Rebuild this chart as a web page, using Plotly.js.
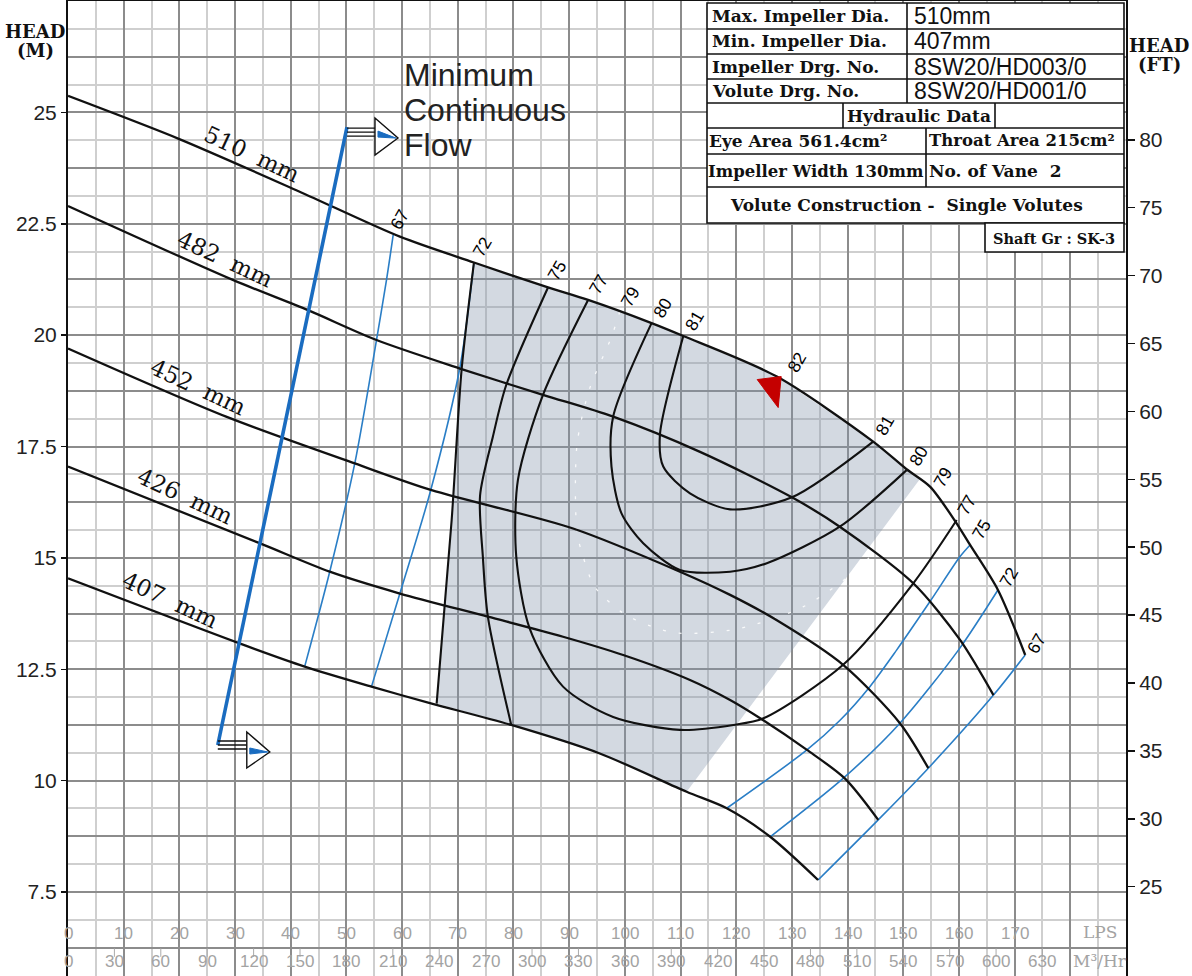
<!DOCTYPE html>
<html><head><meta charset="utf-8">
<script src="https://cdn.plot.ly/plotly-3.0.1.min.js"></script>
<style>html,body{margin:0;padding:0;background:#fff}#chart{width:1192px;height:976px}</style>
</head><body><div id="chart"></div>
<script>
// ---------- DATA (flow in LPS, head in m) ----------
const h510Q=[0,20,41.6,59.6,72.9,86.2,93.4,104.8,110.5,127.3,144.6,150.6,154.8,159.4,162.0,167.0,171.9];
const h510H=[25.37,24.4,23.22,22.21,21.63,21.07,20.79,20.27,19.98,19.07,17.61,16.99,16.6,15.81,15.29,14.28,12.82];
const h482Q=[0,29.6,43.1,55.4,70.4,85.3,97.9,113.5,130,138.6,151.8,160.2,166.2];
const h482H=[22.9,21.24,20.56,19.89,19.25,18.66,18.17,17.38,16.36,15.7,14.43,13.16,11.92];
const h452Q=[0,28.4,51.5,65.3,90.7,109.9,118.9,127.3,139.2,149.4,154.5];
const h452H=[19.7,18.17,17.12,16.52,15.66,14.69,14.17,13.6,12.6,11.29,10.28];
const h426Q=[0,34.4,47,59.6,75.4,88.9,99.7,111.7,118.9,124.3,132.7,139.5,145.5];
const h426H=[17.05,15.33,14.69,14.2,13.68,13.23,12.82,12.26,11.81,11.4,10.69,10.05,9.12];
const h407Q=[0,30.8,42.5,54.5,65,79.6,95.5,111.1,118.3,126.1,134.7];
const h407H=[14.54,13.08,12.56,12.11,11.74,11.25,10.61,9.75,9.38,8.74,7.77];
const diaNames=['510 mm','482 mm','452 mm','426 mm','407 mm'];

// efficiency contours (%)
const eff67LQ=[58.4,57.2,55.4,51.5,47,42.5];
const eff67LH=[22.25,21.24,19.89,17.12,14.69,12.56];
const eff72LQ=[72.9,70.4,65.1,59.6,54.5];
const eff72LH=[21.63,19.29,16.5,14.2,12.11];
const zone72Q=[72.9,70.7,68.9,66.2];
const zone72H=[21.63,19.25,15.85,11.73];
const eff75LQ=[86.2,78.7,76.3,74.0,74.5,75.4,79.6];
const eff75LH=[21.07,18.88,17.72,16.4,15.03,13.68,11.25];
const eff77Q=[93.4,85.3,80.8,80.5,82.9,88.9,97.9,109.9,119.5,124.9,139.2,151.8,159.6];
const eff77H=[20.79,18.66,16.75,15.03,13.42,12.11,11.43,11.14,11.25,11.4,12.6,14.43,15.85];
const eff79Q=[99.1,97.6,93.6,91.4,91.4,92.5,94.6,99.7,104.8,109.6,120,132,142.2,154.8];
const eff79H=[20.53,19.96,18.77,17.53,15.59,15.03,14.35,13.76,13.46,13.31,13.4,13.9,14.8,16.59];
const eff80Q=[104.8,97.9,97.6,99.4,103.3,109.9,118.9,125.5,138.6,150.6];
const eff80H=[20.27,18.17,17.05,16.0,15.33,14.73,14.69,14.88,15.7,16.97];
const eff81Q=[110.5,106.3,106.9,111.7,118.9,130,144.6];
const eff81H=[19.98,17.76,17.05,16.45,16.09,16.36,17.61];
const eff75RQ=[162.0,160.2,154.8,148.8,144.0,138.6,132.7,118.3];
const eff75RH=[15.29,15.03,14.02,12.93,12.11,11.35,10.69,9.38];
const eff72RQ=[167.0,159.9,149.4,139.2,126.1];
const eff72RH=[14.28,12.93,11.29,10.05,8.74];
const eff67RQ=[171.9,166.2,154.5,145.5,134.7];
const eff67RH=[12.82,11.92,10.28,9.12,7.77];
const bepQ=127.9, bepH=19.07, bepLabel='82';

// preferred operating zone (shaded)
const zoneQ=[72.9,86.2,93.4,104.8,110.5,127.3,144.6,150.6,153.0,111.1,95.5,79.6,66.2,68.9,70.7,72.9];
const zoneH=[21.63,21.07,20.79,20.27,19.98,19.07,17.61,16.99,16.77,9.75,10.61,11.25,11.73,15.85,19.25,21.63];

// minimum continuous flow line
const mcfQ=[26.9,50.1];
const mcfH=[10.8,24.67];
const mcfText=['Minimum','Continuous','Flow'];

// ticks
const lpsTicks=[0,10,20,30,40,50,60,70,80,90,100,110,120,130,140,150,160,170];
const m3hTicks=[0,30,60,90,120,150,180,210,240,270,300,330,360,390,420,450,480,510,540,570,600,630];
const mTicks=[7.5,10,12.5,15,17.5,20,22.5,25];
const ftTicks=[25,30,35,40,45,50,55,60,65,70,75,80];

// info table
const tableLeft=['Max. Impeller Dia.','Min. Impeller Dia.','Impeller Drg. No.','Volute Drg. No.'];
const tableRight=['510mm','407mm','8SW20/HD003/0','8SW20/HD001/0'];
const hydTitle='Hydraulic Data';
const hydCells=['Eye Area 561.4cm²','Throat Area 215cm²','Impeller Width 130mm','No. of Vane\u00a0\u00a02'];
const volText='Volute Construction -\u00a0\u00a0Single Volutes';
const shaftText='Shaft Gr : SK-3';

// ---------- STYLE / HELPERS ----------
const H_MIN=5.615, H_MAX=27.5, Q_MAX=190;
const ML=68, MR=66, MT=1, MB=0, W=1192, HH=976;
const PW=W-ML-MR, PH=HH-MT-MB;
const px2x=px=>(px-ML)/PW;
const py2y=py=>1-(py-MT)/PH;
function interp(qa,ha,q){for(let i=0;i<qa.length-1;i++){if(q>=qa[i]&&q<=qa[i+1]){const t=(q-qa[i])/(qa[i+1]-qa[i]);return ha[i]+t*(ha[i+1]-ha[i]);}}return ha[ha.length-1];}

const BLUE='#2a7ec6', MCFBLUE='#1a6cc0';
const traces=[];
function line(q,h,color,width,extra){traces.push(Object.assign({x:q,y:h,mode:'lines',line:{color:color,width:width,shape:'spline',smoothing:0.8},hoverinfo:'skip',showlegend:false},extra||{}));}

// shaded zone
traces.push({x:zoneQ,y:zoneH,mode:'lines',fill:'toself',fillcolor:'rgba(132,149,172,0.36)',line:{width:0},hoverinfo:'skip',showlegend:false});
// faint white dashed 79 contour
line(eff79Q,eff79H,'#fff',1.2,{line:{color:'rgba(255,255,255,0.85)',width:1.3,dash:'3px,13px',shape:'spline',smoothing:0.8}});
// blue efficiency lines
[[eff67LQ,eff67LH],[eff72LQ,eff72LH],[eff75RQ,eff75RH],[eff72RQ,eff72RH],[eff67RQ,eff67RH]].forEach(a=>line(a[0],a[1],BLUE,1.6));
// black efficiency contours
[[zone72Q,zone72H],[eff75LQ,eff75LH],[eff77Q,eff77H],[eff80Q,eff80H],[eff81Q,eff81H]].forEach(a=>line(a[0],a[1],'#111',2.1));
// head curves
const heads=[[h510Q,h510H],[h482Q,h482H],[h452Q,h452H],[h426Q,h426H],[h407Q,h407H]];
heads.forEach(a=>line(a[0],a[1],'#111',2.3));
// MCF line
traces.push({x:mcfQ,y:mcfH,mode:'lines',line:{color:MCFBLUE,width:3.6},hoverinfo:'skip',showlegend:false});
// m3/h small ticks
traces.push({x:m3hTicks.map(v=>v/3.6),y:m3hTicks.map(()=>6.14),mode:'markers',marker:{symbol:'line-ns',size:6,line:{width:1,color:'#aaa'}},hoverinfo:'skip',showlegend:false});
// dummy traces for secondary axes
traces.push({x:[0],y:[null],yaxis:'y2',mode:'lines',hoverinfo:'skip',showlegend:false});
traces.push({x:[0],y:[null],yaxis:'y3',mode:'lines',hoverinfo:'skip',showlegend:false});

// ---------- ANNOTATIONS ----------
const ann=[];
const SERIF='DejaVu Serif, Liberation Serif, serif';
const SANS='Liberation Sans, Arial, sans-serif';
// diameter labels
const diaLabelQ=[33,28.2,23.3,21.0,18.3];
heads.forEach((a,i)=>{
  ann.push({x:diaLabelQ[i],y:interp(a[0],a[1],diaLabelQ[i]),xref:'x',yref:'y',xanchor:'center',yanchor:'middle',text:diaNames[i].replace(' ','\u00a0\u00a0'),showarrow:false,textangle:25,yshift:17,font:{family:SERIF,size:23,color:'#111'}});
});
// efficiency labels
function effLab(q,h,t,dx,dy){ann.push({x:q,y:h,xref:'x',yref:'y',xanchor:'center',yanchor:'middle',text:t,showarrow:false,textangle:-60,xshift:dx,yshift:dy,font:{family:SANS,size:17.5,color:'#000'}});}
effLab(eff67LQ[0],eff67LH[0],'67',6,15);
effLab(eff72LQ[0],eff72LH[0],'72',8,16);
effLab(eff75LQ[0],eff75LH[0],'75',9,16);
effLab(eff77Q[0],eff77H[0],'77',10,15);
effLab(eff79Q[0],eff79H[0],'79',10,15);
effLab(eff80Q[0],eff80H[0],'80',11,15);
effLab(eff81Q[0],eff81H[0],'81',11,15);
effLab(eff81Q[eff81Q.length-1],eff81H[eff81H.length-1],'81',11,16);
effLab(eff80Q[eff80Q.length-1],eff80H[eff80H.length-1],'80',12,14);
effLab(eff79Q[eff79Q.length-1],eff79H[eff79H.length-1],'79',13,10);
effLab(eff77Q[eff77Q.length-1],eff77H[eff77H.length-1],'77',10,15);
effLab(eff75RQ[0],eff75RH[0],'75',11,15);
effLab(eff72RQ[0],eff72RH[0],'72',11,13);
effLab(eff67RQ[0],eff67RH[0],'67',11,11);
effLab(bepQ,bepH,bepLabel,16,14);
// MCF text
mcfText.forEach((t,i)=>ann.push({x:mcfQ[1],y:mcfH[1],xref:'x',yref:'y',text:t,showarrow:false,xanchor:'left',yanchor:'middle',xshift:55,yshift:52-35*i,font:{family:SANS,size:32,color:'#222'}}));
// bottom axis labels (inside plot)
lpsTicks.forEach(v=>ann.push({x:v,y:6.5625,xref:'x',yref:'y',xanchor:'center',yanchor:'middle',text:String(v),showarrow:false,font:{family:SANS,size:17,color:'#a3a3a3'}}));
m3hTicks.forEach(v=>ann.push({x:v/3.6,y:5.94,xref:'x',yref:'y',xanchor:'center',yanchor:'middle',text:String(v),showarrow:false,font:{family:SANS,size:17,color:'#a3a3a3'}}));
// text in paper coordinates
function ptxt(px,py,t,font,anchor){ann.push({x:px2x(px),y:py2y(py),xref:'paper',yref:'paper',text:t,showarrow:false,xanchor:anchor||'center',yanchor:'middle',font:font});}
ptxt(1100,932,'LPS',{family:SERIF,size:17,color:'#a3a3a3'});
ptxt(1100,961,'M³/Hr',{family:SERIF,size:17,color:'#a3a3a3'});
const titleFont={family:SERIF,size:18,color:'#111'};
ptxt(35,31,'<b>HEAD</b>',titleFont);ptxt(35,50,'<b>(M)</b>',titleFont);
ptxt(1159,45,'<b>HEAD</b>',titleFont);ptxt(1159,64,'<b>(FT)</b>',titleFont);
// table texts
const tF={family:SERIF,size:17,color:'#111'};
const tFs={family:SERIF,size:16.5,color:'#111'};
const vF={family:SANS,size:23,color:'#111'};
const rowsY=[16,41.5,66.5,91];
tableLeft.forEach((t,i)=>ptxt(710,rowsY[i],'<b>'+t+'</b>',tF,'left'));
tableRight.forEach((t,i)=>ptxt(912,rowsY[i],t,vF,'left'));
ptxt(919,116,'<b>'+hydTitle+'</b>',tF);
ptxt(707,141,'<b>'+hydCells[0]+'</b>',tF,'left');
ptxt(927,141,'<b>'+hydCells[1]+'</b>',tFs,'left');
ptxt(706,171,'<b>'+hydCells[2]+'</b>',tFs,'left');
ptxt(927,171,'<b>'+hydCells[3]+'</b>',tF,'left');
ptxt(906,205,'<b>'+volText+'</b>',tF);
ptxt(1054,238,'<b>'+shaftText+'</b>',{family:SERIF,size:14.5,color:'#111'});

// ---------- SHAPES ----------
const shapes=[];
function rect(x0,y0,x1,y1){shapes.push({type:'rect',xref:'paper',yref:'paper',x0:px2x(x0),x1:px2x(x1),y0:py2y(y0),y1:py2y(y1),fillcolor:'#fff',line:{color:'#111',width:1.6},layer:'above'});}
function hl(x0,x1,y){shapes.push({type:'line',xref:'paper',yref:'paper',x0:px2x(x0),x1:px2x(x1),y0:py2y(y),y1:py2y(y),line:{color:'#111',width:1.6}});}
function vl(x,y0,y1){shapes.push({type:'line',xref:'paper',yref:'paper',x0:px2x(x),x1:px2x(x),y0:py2y(y0),y1:py2y(y1),line:{color:'#111',width:1.6}});}
rect(707,3,1124,223);
[29,54,79,103,128,154,187].forEach(y=>hl(707,1124,y));
vl(907,3,103);vl(843,103,128);vl(995,103,128);vl(926,128,187);
rect(985,223,1124,252);
// arrows at MCF ends (pixel sized)
function pshape(q,h,path,fill,lc,lw){shapes.push({type:'path',xref:'x',yref:'y',xsizemode:'pixel',ysizemode:'pixel',xanchor:q,yanchor:h,path:path,fillcolor:fill,line:{color:lc,width:lw}});}
pshape(mcfQ[1],mcfH[1],'M 0 -1 L 28 -1 M 0 -5 L 28 -5 M 0 -9 L 28 -9','rgba(0,0,0,0)','#111',1.4);
pshape(mcfQ[1],mcfH[1],'M 28 9 L 28 -28 L 51 -11 Z','#fff','#111',1.4);
pshape(mcfQ[1],mcfH[1],'M 31 -4 L 31 -10 L 49 -11 Z',MCFBLUE,MCFBLUE,1);
pshape(mcfQ[0],mcfH[0],'M 0 4 L 29 4 M 0 0 L 29 0 M 0 -4 L 29 -4','rgba(0,0,0,0)','#111',1.4);
pshape(mcfQ[0],mcfH[0],'M 29 13 L 29 -23 L 52 -7 Z','#fff','#111',1.4);
pshape(mcfQ[0],mcfH[0],'M 32 -3 L 32 -9 L 50 -7 Z',MCFBLUE,MCFBLUE,1);
// BEP marker
pshape(bepQ,bepH,'M -23 -3 L 1 0 L -2 -31 Z','#c40000','#c40000',1);

// ---------- LAYOUT ----------
const DARK='#8c8c8c', LIGHT='#cfcfcf';
const layout={
  width:W,height:HH,margin:{l:ML,r:MR,t:MT,b:MB,pad:0},
  paper_bgcolor:'#fff',plot_bgcolor:'#fff',showlegend:false,
  xaxis:{range:[0,Q_MAX],tickmode:'linear',tick0:0,dtick:10,showticklabels:false,ticks:'',showgrid:true,gridcolor:DARK,gridwidth:2,
    minor:{tickmode:'linear',tick0:0,dtick:5,showgrid:true,gridcolor:LIGHT,gridwidth:2,ticks:''},
    showline:true,linecolor:'#111',linewidth:2,mirror:true,zeroline:false,fixedrange:true},
  yaxis:{range:[H_MIN,H_MAX],tickmode:'linear',tick0:0,dtick:1.25,showticklabels:false,ticks:'',showgrid:true,gridcolor:DARK,gridwidth:2,
    minor:{tickmode:'linear',tick0:0,dtick:0.625,showgrid:true,gridcolor:LIGHT,gridwidth:2,ticks:''},
    showline:true,linecolor:'#111',linewidth:2,mirror:true,zeroline:false,fixedrange:true},
  yaxis3:{overlaying:'y',side:'left',range:[H_MIN,H_MAX],tickmode:'array',tickvals:mTicks,ticktext:mTicks.map(String),ticks:'outside',ticklen:6,tickwidth:1.5,tickcolor:'#111',
    showgrid:false,zeroline:false,showline:false,tickfont:{family:SANS,size:21,color:'#222'},fixedrange:true},
  yaxis2:{overlaying:'y',side:'right',range:[H_MIN*3.28084,H_MAX*3.28084],tickmode:'array',tickvals:ftTicks,ticktext:ftTicks.map(String),ticks:'outside',ticklen:8,tickwidth:1.5,tickcolor:'#111',
    showgrid:false,zeroline:false,showline:false,tickfont:{family:SANS,size:21,color:'#222'},fixedrange:true},
  annotations:ann,shapes:shapes
};
Plotly.newPlot('chart',traces,layout,{staticPlot:true,displayModeBar:false});
</script>
</body></html>
